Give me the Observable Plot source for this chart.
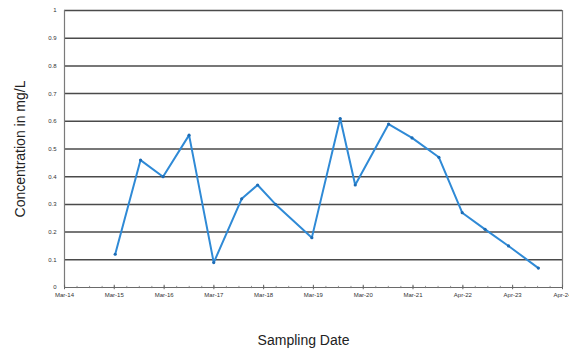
<!DOCTYPE html>
<html>
<head>
<meta charset="utf-8">
<script src="https://cdn.jsdelivr.net/npm/d3@7"></script>
<script src="https://cdn.jsdelivr.net/npm/@observablehq/plot@0.6"></script>
<style>
  html, body { margin: 0; padding: 0; background: #fff; }
</style>
</head>
<body>
<div id="chart"></div>
<script>
// Sampling dates and concentrations (mg/L)
const sampleDates = [
  "2015-04-07", "2015-10-10", "2016-03-23", "2016-09-30", "2017-03-30",
  "2017-10-21", "2018-02-15", "2018-06-27", "2019-03-20", "2019-10-14",
  "2020-02-01", "2020-10-03", "2021-03-24", "2021-10-07", "2022-03-27",
  "2022-09-11", "2023-03-02", "2023-10-07"
];
const concentrations = [
  0.12, 0.46, 0.40, 0.55, 0.09,
  0.32, 0.37, 0.30, 0.18, 0.61,
  0.37, 0.59, 0.54, 0.47, 0.27,
  0.21, 0.15, 0.07
];
const xTickDates = [
  "2014-03-31", "2015-03-31", "2016-03-31", "2017-03-31", "2018-03-31",
  "2019-03-31", "2020-03-31", "2021-03-31", "2022-04-01", "2023-04-01", "2024-04-01"
];
const xTickLabels = [
  "Mar-14", "Mar-15", "Mar-16", "Mar-17", "Mar-18",
  "Mar-19", "Mar-20", "Mar-21", "Apr-22", "Apr-23", "Apr-24"
];
const yTicks = [0, 0.1, 0.2, 0.3, 0.4, 0.5, 0.6, 0.7, 0.8, 0.9, 1];
const yTickLabels = ["0", "0.1", "0.2", "0.3", "0.4", "0.5", "0.6", "0.7", "0.8", "0.9", "1"];
const yTitle = "Concentration in mg/L";
const xTitle = "Sampling Date";

const data = sampleDates.map((d, i) => ({date: new Date(d), value: concentrations[i]}));
const tickDates = xTickDates.map(d => new Date(d));
const labelByTime = new Map(tickDates.map((d, i) => [+d, xTickLabels[i]]));
const yLabelByValue = new Map(yTicks.map((v, i) => [v, yTickLabels[i]]));
const xDomain = [tickDates[0], tickDates[tickDates.length - 1]];
const minorTicks = d3.utcMonth.every(3).range(xDomain[0], xDomain[1]);

const chart = Plot.plot({
  width: 569,
  height: 352,
  marginLeft: 64,
  marginRight: 7,
  marginTop: 10,
  marginBottom: 65,
  style: {fontFamily: "'Liberation Sans', Arial, sans-serif", background: "#fff", color: "#333"},
  x: {type: "utc", domain: xDomain},
  y: {domain: [0, 1]},
  marks: [
    Plot.ruleY(yTicks.filter(v => v > 0), {stroke: "#4a4a4a", strokeWidth: 1.5}),
    Plot.ruleX([xDomain[0]], {stroke: "#7a7a7a", strokeWidth: 1.2}),
    Plot.ruleX([xDomain[1]], {stroke: "#7a7a7a", strokeWidth: 1.2}),
    Plot.ruleY([0], {stroke: "#6a6a6a", strokeWidth: 1.2}),
    Plot.ruleX(minorTicks, {y1: -0.004, y2: 0.004, stroke: "#777", strokeWidth: 0.8}),
    Plot.ruleX(tickDates, {y1: -0.008, y2: 0.008, stroke: "#666", strokeWidth: 1}),
    Plot.axisY({
      ticks: yTicks, tickSize: 0, tickPadding: 8, fontSize: 6, label: null,
      tickFormat: v => yLabelByValue.get(v), fill: "#333"
    }),
    Plot.axisX({
      ticks: tickDates, tickSize: 0, tickPadding: 5, fontSize: 6, label: null,
      tickFormat: d => labelByTime.get(+d), fill: "#333"
    }),
    Plot.line(data, {x: "date", y: "value", stroke: "#2f8ad6", strokeWidth: 2}),
    Plot.dot(data, {x: "date", y: "value", r: 1.6, fill: "#1d6cb5", stroke: "none"}),
    Plot.text([yTitle], {frameAnchor: "left", rotate: -90, dx: -44, fontSize: 14, fill: "#222", textAnchor: "middle", lineAnchor: "middle"}),
    Plot.text([xTitle], {frameAnchor: "bottom", dx: -10, dy: 53, fontSize: 14, fill: "#222", textAnchor: "middle", lineAnchor: "middle"})
  ]
});
document.getElementById("chart").appendChild(chart);
</script>
</body>
</html>
